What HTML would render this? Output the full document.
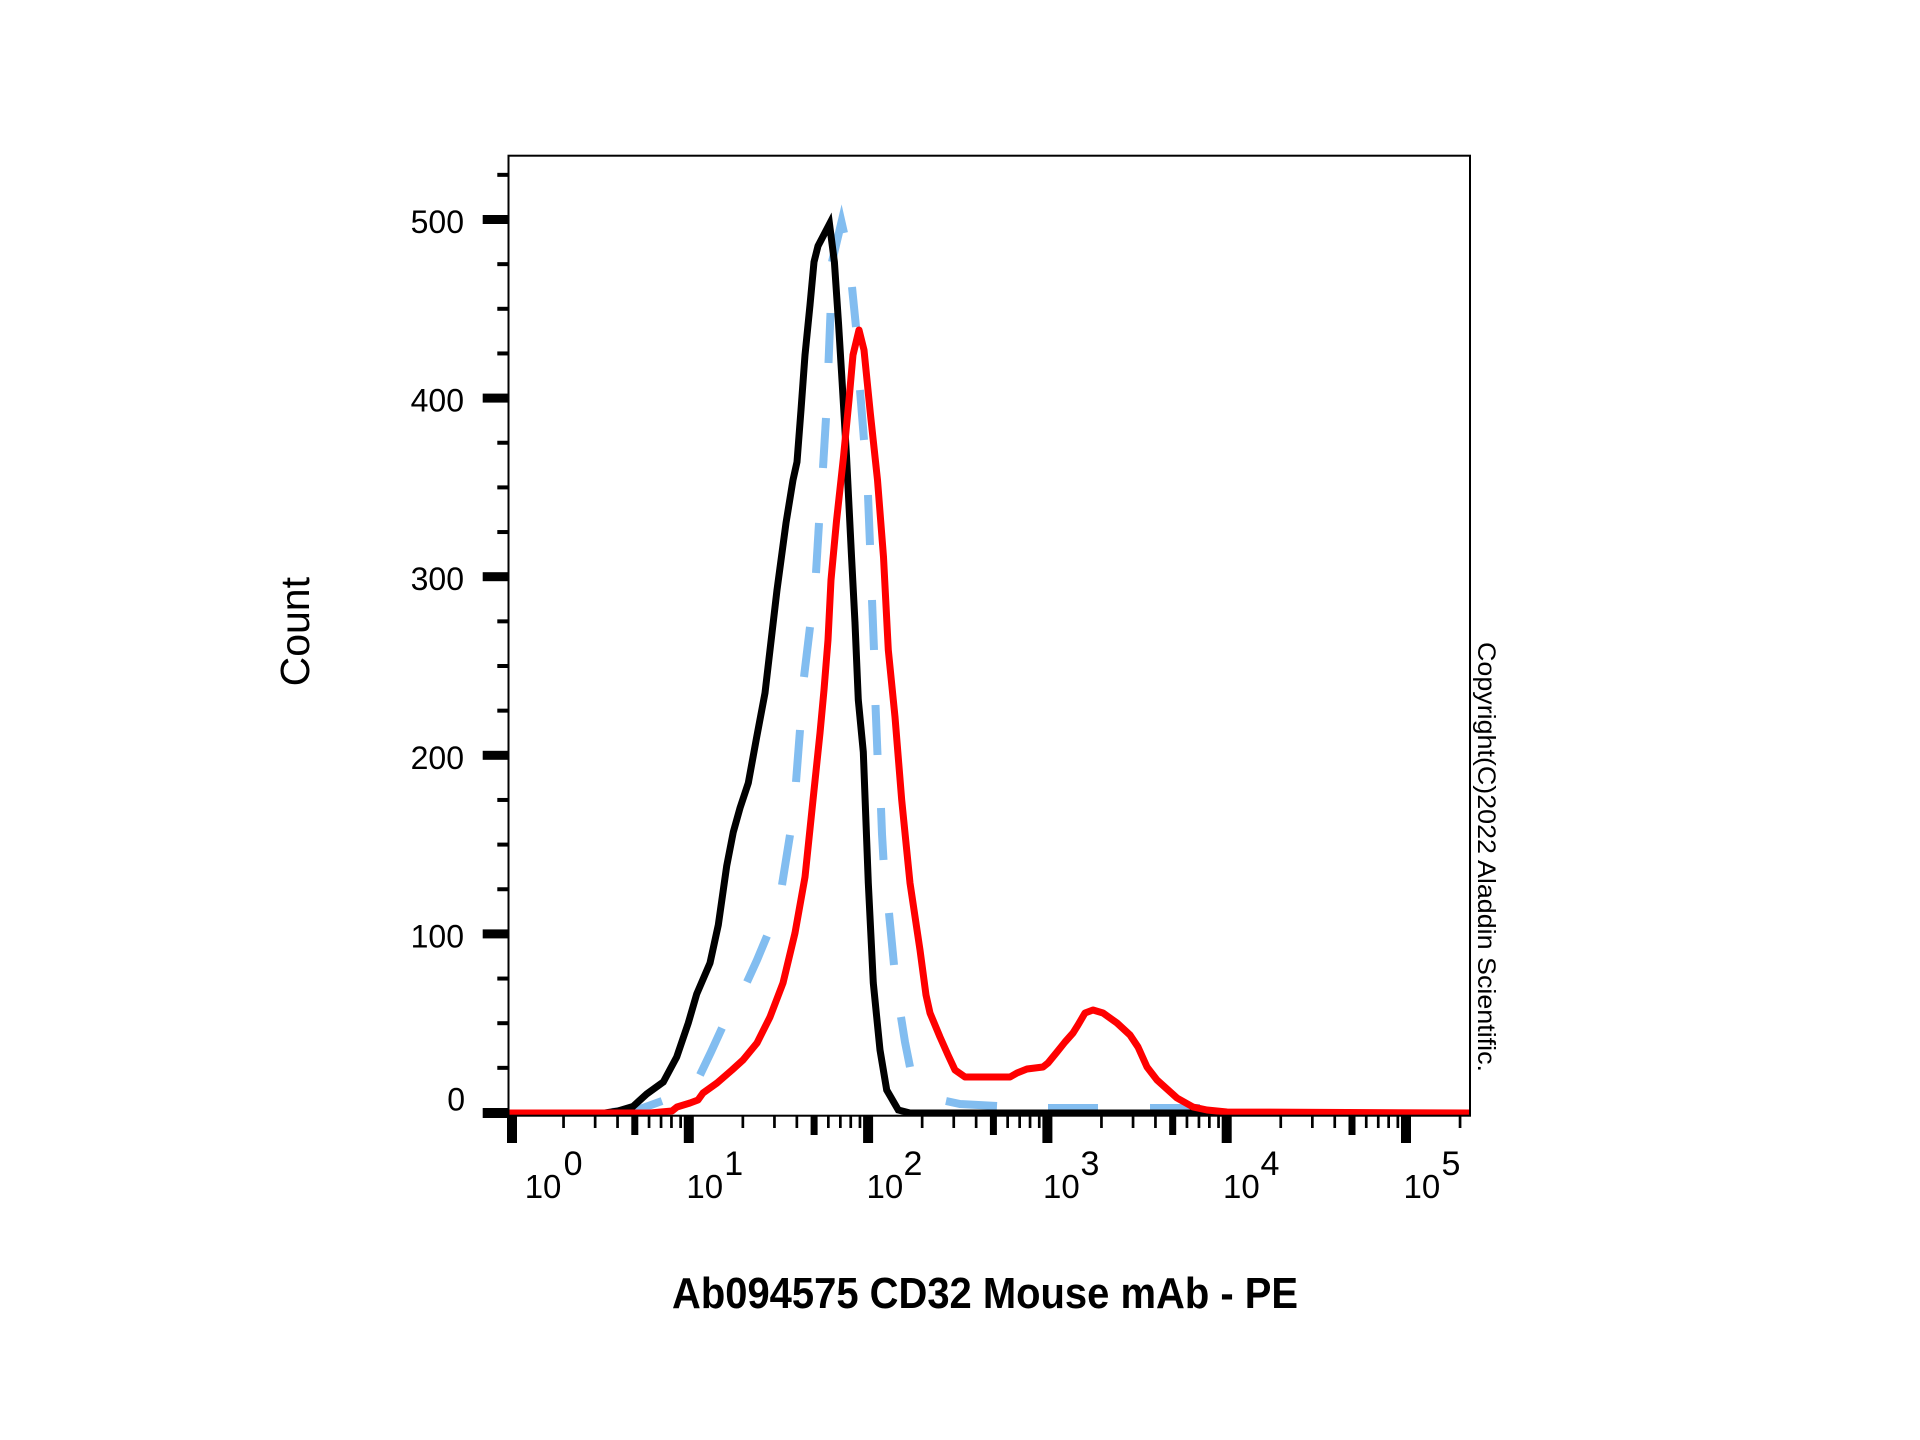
<!DOCTYPE html>
<html><head><meta charset="utf-8"><style>
html,body{margin:0;padding:0;background:#fff;}
svg{display:block;}
text{font-family:"Liberation Sans",Arial,sans-serif;fill:#000;}
</style></head><body>
<svg width="1920" height="1440" viewBox="0 0 1920 1440" xmlns="http://www.w3.org/2000/svg">
<rect x="0" y="0" width="1920" height="1440" fill="#fff"/>
<g fill="none" stroke="#82bdf0" stroke-width="8" stroke-linecap="butt" stroke-linejoin="miter" stroke-miterlimit="8">
<polyline points="612,1112 640,1109 662,1101"/>
<polyline points="700,1075 711,1052 722,1028"/>
<polyline points="747,982 757,960 767,936"/>
<polyline points="782,885 786,860 790,835"/>
<polyline points="796,782 798,756 800,730"/>
<polyline points="804,677 807,652 810,627"/>
<polyline points="816,573 817.5,548 819,523"/>
<polyline points="823,468 824.5,443 826,418"/>
<polyline points="828.5,363 829.5,338 830.5,313"/>
<polyline points="832,262 841.5,222 844,233"/>
<polyline points="852,287 854,307 856,327"/>
<polyline points="860,390 862,415 864,440"/>
<polyline points="868,495 869,520 870,545"/>
<polyline points="872,600 873,625 874,650"/>
<polyline points="875.5,705 876.5,730 877.5,755"/>
<polyline points="881,808 882,834 883.5,860"/>
<polyline points="889,913 891.5,939 894,965"/>
<polyline points="901,1017 905,1042 910,1067"/>
<polyline points="946,1101 960,1104 997,1106"/>
<polyline points="1048,1108 1098,1108"/>
<polyline points="1150,1108 1200,1108"/>
</g>
<polyline fill="none" stroke="#000" stroke-width="7" stroke-linejoin="miter" stroke-miterlimit="6"
points="509,1113 605,1113 618,1111 633,1106.5 646.7,1094 663.3,1082 676.7,1057 688.3,1023 696.7,994 710,963 718.3,925 726.7,866 733.3,832 740,808 748.3,783 756.7,737 765,693 770,650 777,590 786,523 793,480 797,462 801,410 805,355 810,305 814,262 818,246 829.5,224 834.4,262 838.5,323 842,380 846.5,456 851.5,556 855,623 858.3,700 863.3,752 868.3,883 873.3,983 880,1050 886.7,1090 898.3,1110 910,1113 1470,1113"/>
<polyline fill="none" stroke="#ff0000" stroke-width="7" stroke-linejoin="round"
points="509,1113 650,1113 672,1111 677,1107 690,1103 698,1100 703,1093 717,1083 732,1070 743,1060 757,1043 770,1017 783,983 795,933 805,877 813,800 820,733 824,690 828,640 831,580 836.5,521 843.5,457 849,400 853,355 859,330 864,350 870.3,413 877.5,480 883.5,557 888.3,650 895,717 901.7,800 910,883 920,950 926,995 930,1013 940,1037 948,1055 955,1070 965,1077 1010,1077 1017,1073 1027,1069 1043,1067 1048,1063 1057,1052 1065,1042 1073,1033 1078,1025 1085,1013 1093,1010 1103,1013 1117,1023 1130,1035 1138,1047 1147,1067 1157,1080 1177,1098 1193,1107 1207,1110 1227,1112 1470,1113"/>
<rect x="508.5" y="155.7" width="961.5" height="960" fill="none" stroke="#000" stroke-width="2"/>
<g fill="#000">
<rect x="482.7" y="1108" width="26" height="10"/>
<rect x="482.7" y="929.4" width="26" height="9"/>
<rect x="482.7" y="750.8" width="26" height="9"/>
<rect x="482.7" y="572.2" width="26" height="9"/>
<rect x="482.7" y="393.6" width="26" height="9"/>
<rect x="482.7" y="215" width="26" height="9"/>
<rect x="497.3" y="1065.85" width="11.2" height="4"/>
<rect x="497.3" y="1021.2" width="11.2" height="4"/>
<rect x="497.3" y="976.55" width="11.2" height="4"/>
<rect x="497.3" y="887.25" width="11.2" height="4"/>
<rect x="497.3" y="842.6" width="11.2" height="4"/>
<rect x="497.3" y="797.95" width="11.2" height="4"/>
<rect x="497.3" y="708.65" width="11.2" height="4"/>
<rect x="497.3" y="664" width="11.2" height="4"/>
<rect x="497.3" y="619.35" width="11.2" height="4"/>
<rect x="497.3" y="530.05" width="11.2" height="4"/>
<rect x="497.3" y="485.4" width="11.2" height="4"/>
<rect x="497.3" y="440.75" width="11.2" height="4"/>
<rect x="497.3" y="351.45" width="11.2" height="4"/>
<rect x="497.3" y="306.8" width="11.2" height="4"/>
<rect x="497.3" y="262.15" width="11.2" height="4"/>
<rect x="497.3" y="172.85" width="11.2" height="4"/>
</g>
<g font-size="32" text-anchor="end">
<text x="464" y="233">500</text>
<text x="464" y="411.6">400</text>
<text x="464" y="590.2">300</text>
<text x="464" y="768.8">200</text>
<text x="464" y="947.4">100</text>
<text x="465" y="1110.5">0</text>
</g>
<g fill="#000">
<rect x="507" y="1116" width="10" height="27"/>
<rect x="683.8" y="1116" width="10" height="27"/>
<rect x="863.1" y="1116" width="10" height="27"/>
<rect x="1042.4" y="1116" width="10" height="27"/>
<rect x="1221.7" y="1116" width="10" height="27"/>
<rect x="1401" y="1116" width="10" height="27"/>
<rect x="631.3" y="1116" width="7" height="19"/>
<rect x="810.6" y="1116" width="7" height="19"/>
<rect x="989.9" y="1116" width="7" height="19"/>
<rect x="1169.2" y="1116" width="7" height="19"/>
<rect x="1348.5" y="1116" width="7" height="19"/>
<rect x="562.2" y="1116" width="2.7" height="12"/>
<rect x="593.8" y="1116" width="2.7" height="12"/>
<rect x="616.2" y="1116" width="2.7" height="12"/>
<rect x="647.7" y="1116" width="2.7" height="12"/>
<rect x="659.7" y="1116" width="2.7" height="12"/>
<rect x="670.1" y="1116" width="2.7" height="12"/>
<rect x="679.3" y="1116" width="2.7" height="12"/>
<rect x="741.5" y="1116" width="2.7" height="12"/>
<rect x="773.1" y="1116" width="2.7" height="12"/>
<rect x="795.5" y="1116" width="2.7" height="12"/>
<rect x="827" y="1116" width="2.7" height="12"/>
<rect x="839" y="1116" width="2.7" height="12"/>
<rect x="849.4" y="1116" width="2.7" height="12"/>
<rect x="858.6" y="1116" width="2.7" height="12"/>
<rect x="920.8" y="1116" width="2.7" height="12"/>
<rect x="952.4" y="1116" width="2.7" height="12"/>
<rect x="974.8" y="1116" width="2.7" height="12"/>
<rect x="1006.3" y="1116" width="2.7" height="12"/>
<rect x="1018.3" y="1116" width="2.7" height="12"/>
<rect x="1028.7" y="1116" width="2.7" height="12"/>
<rect x="1037.9" y="1116" width="2.7" height="12"/>
<rect x="1100.1" y="1116" width="2.7" height="12"/>
<rect x="1131.7" y="1116" width="2.7" height="12"/>
<rect x="1154.1" y="1116" width="2.7" height="12"/>
<rect x="1185.6" y="1116" width="2.7" height="12"/>
<rect x="1197.6" y="1116" width="2.7" height="12"/>
<rect x="1208" y="1116" width="2.7" height="12"/>
<rect x="1217.2" y="1116" width="2.7" height="12"/>
<rect x="1279.4" y="1116" width="2.7" height="12"/>
<rect x="1311" y="1116" width="2.7" height="12"/>
<rect x="1333.4" y="1116" width="2.7" height="12"/>
<rect x="1364.9" y="1116" width="2.7" height="12"/>
<rect x="1376.9" y="1116" width="2.7" height="12"/>
<rect x="1387.3" y="1116" width="2.7" height="12"/>
<rect x="1396.5" y="1116" width="2.7" height="12"/>
<rect x="1458.7" y="1116" width="2.7" height="12"/>
</g>
<g font-size="33">
<text x="524.7" y="1198">10</text><text x="563.6" y="1175" font-size="34">0</text>
<text x="686.4" y="1198">10</text><text x="724.3" y="1175" font-size="34">1</text>
<text x="866.5" y="1198">10</text><text x="903.5" y="1175" font-size="34">2</text>
<text x="1043" y="1198">10</text><text x="1080.5" y="1175" font-size="34">3</text>
<text x="1223" y="1198">10</text><text x="1260.5" y="1175" font-size="34">4</text>
<text x="1403.5" y="1198">10</text><text x="1441.5" y="1175" font-size="34">5</text>
</g>
<text x="672" y="1308" font-size="44" font-weight="bold" textLength="626" lengthAdjust="spacingAndGlyphs">Ab094575 CD32 Mouse mAb - PE</text>
<text transform="translate(309,631.7) rotate(-90)" font-size="41" text-anchor="middle">Count</text>
<text transform="translate(1478,642) rotate(90)" font-size="25" textLength="430" lengthAdjust="spacingAndGlyphs">Copyright(C)2022 Aladdin Scientific.</text>
</svg>
</body></html>
